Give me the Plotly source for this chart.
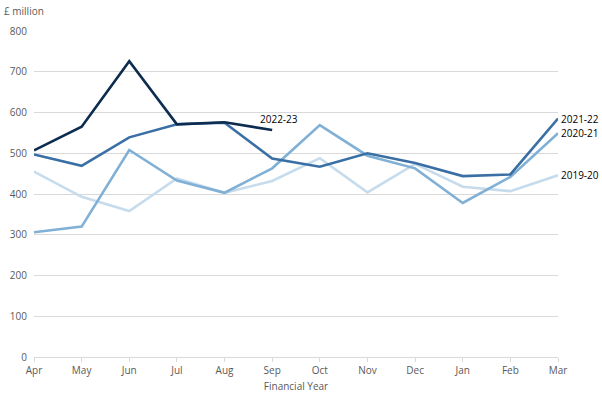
import plotly.graph_objects as go

months = ["Apr", "May", "Jun", "Jul", "Aug", "Sep", "Oct", "Nov", "Dec", "Jan", "Feb", "Mar"]
fy_2019_20 = [455, 393, 358, 438, 403, 432, 488, 404, 474, 418, 407, 446]
fy_2020_21 = [306, 320, 508, 433, 403, 463, 569, 494, 463, 378, 442, 549]
fy_2021_22 = [497, 469, 539, 571, 575, 487, 467, 500, 476, 444, 448, 585]
fy_2022_23 = [507, 565, 726, 571, 576, 557]

series = [
    ("2019-20", fy_2019_20, "#c6dcec"),
    ("2020-21", fy_2020_21, "#80b0d5"),
    ("2021-22", fy_2021_22, "#3a6fa5"),
    ("2022-23", fy_2022_23, "#0c2c50"),
]

fig = go.Figure()
for name, vals, col in series:
    fig.add_trace(go.Scatter(x=months[:len(vals)], y=vals, mode="lines", name=name,
                             line=dict(color=col, width=2.6), showlegend=False))

font = "Open Sans, Liberation Sans, sans-serif"
# end labels
fig.add_annotation(x="Sep", y=fy_2022_23[-1], text="2022-23", showarrow=False,
                   xanchor="center", yanchor="middle", xshift=7, yshift=11,
                   font=dict(size=10, color="#000000", family=font))
for name, vals, col in series[:3]:
    fig.add_annotation(x="Mar", y=vals[-1], text=name, showarrow=False,
                       xanchor="left", yanchor="middle", xshift=1,
                       font=dict(size=10, color="#000000", family=font))

fig.add_annotation(xref="paper", yref="paper", x=-0.062, y=1.061, text="£ million",
                   showarrow=False, xanchor="left", yanchor="middle",
                   font=dict(size=10, color="#595959", family=font))

fig.update_layout(
    width=602, height=402,
    margin=dict(l=34, r=44, t=31, b=45),
    paper_bgcolor="white", plot_bgcolor="white",
    font=dict(family=font, size=10, color="#595959"),
    xaxis=dict(type="category", categoryorder="array", categoryarray=months,
               range=[0, 11], showgrid=False, showline=True, linecolor="#d9d9d9",
               linewidth=1, ticks="outside", ticklen=4, tickcolor="#d9d9d9",
               automargin=False,
               title=dict(text="Financial Year", standoff=6, font=dict(size=10, color="#595959")),
               tickfont=dict(size=10, color="#595959")),
    yaxis=dict(range=[0, 800], dtick=100, showgrid=True, gridcolor="#d9d9d9",
               gridwidth=1, zeroline=False, showline=False, automargin=False,
               tickfont=dict(size=10, color="#595959"), ticklabelstandoff=6),
)

fig.write_html("out.html", config={"displayModeBar": False},
               post_script="document.body.style.margin='0';")
